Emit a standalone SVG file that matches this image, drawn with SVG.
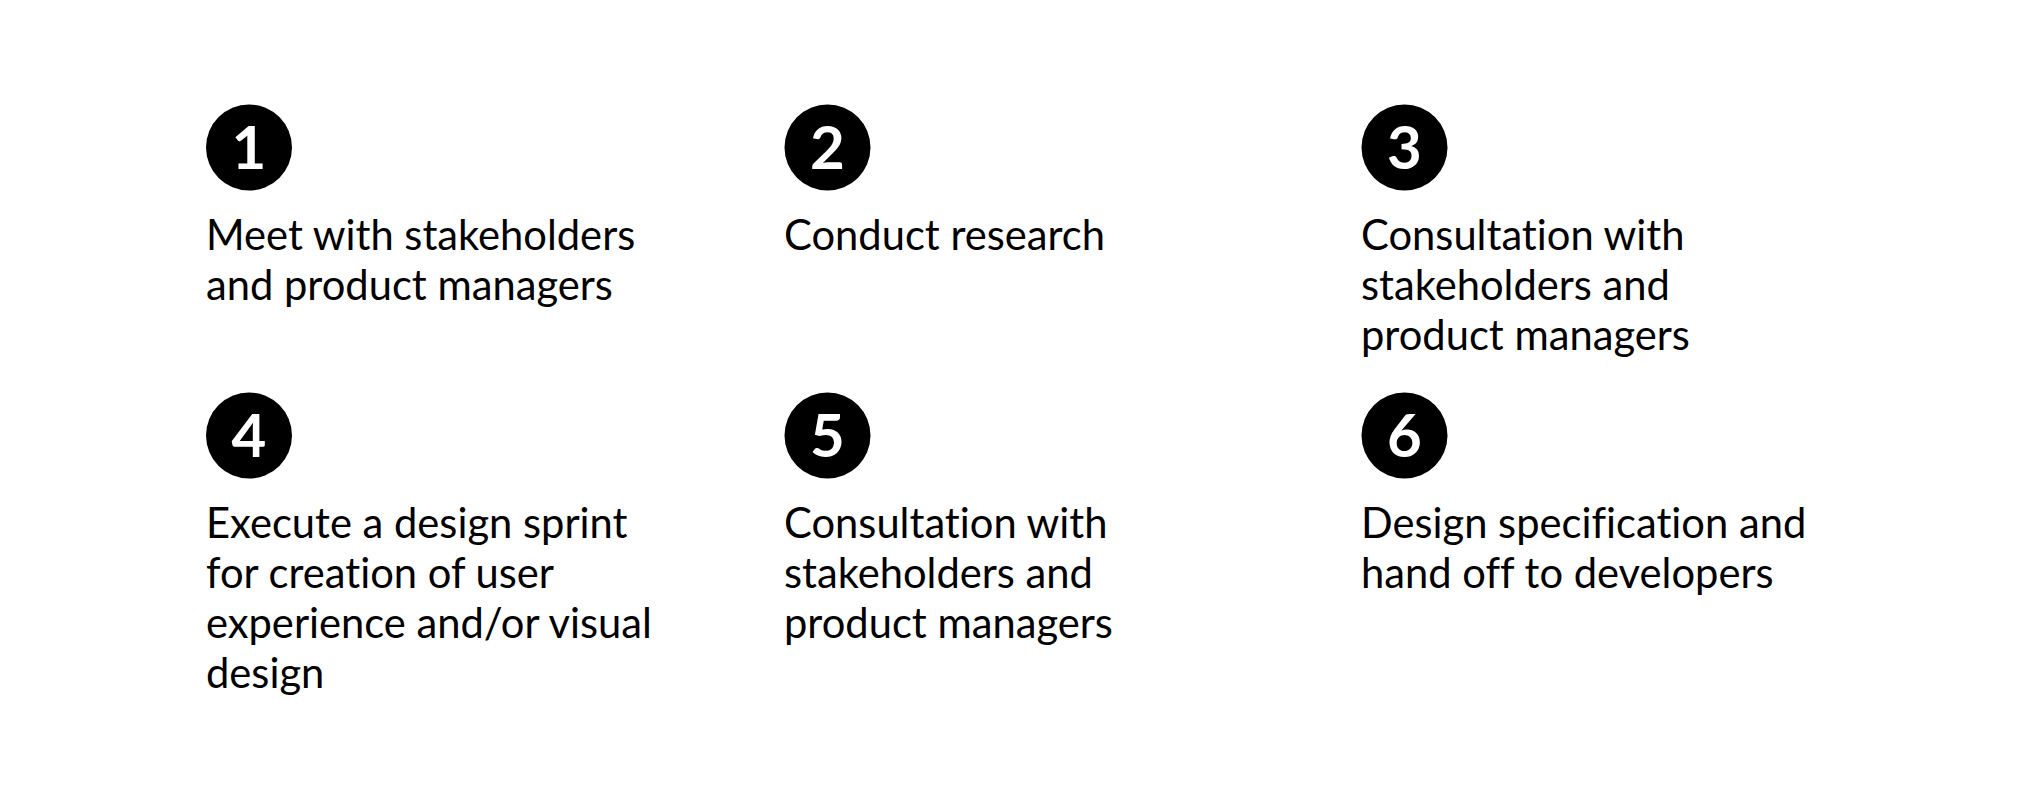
<svg xmlns="http://www.w3.org/2000/svg" width="2027" height="800" viewBox="0 0 2027 800">
<style>
.c{fill:#000}
.n{font-family:Lato,"Liberation Sans",sans-serif;font-weight:bold;font-size:60px;fill:#fff;text-anchor:middle}
.t{font-family:Lato,"Liberation Sans",sans-serif;font-size:41.7px;fill:#000;font-variant-ligatures:none}
</style>
<rect width="2027" height="800" fill="#fff"/>
<g id="connectors"></g>
<g id="step1">
<circle class="c" cx="249" cy="147.5" r="43"/>
<text class="n" x="249" y="169">1</text>
<text class="t" x="206" y="250">Meet with stakeholders<tspan x="206" dy="50">and product managers</tspan></text>
</g>
<g id="step2">
<circle class="c" cx="827.5" cy="147.5" r="43"/>
<text class="n" x="827.5" y="169">2</text>
<text class="t" x="784" y="250">Conduct research</text>
</g>
<g id="step3">
<circle class="c" cx="1404.5" cy="147.5" r="43"/>
<text class="n" x="1404.5" y="169">3</text>
<text class="t" x="1361" y="250">Consultation with<tspan x="1361" dy="50">stakeholders and</tspan><tspan x="1361" dy="50">product managers</tspan></text>
</g>
<g id="step4">
<circle class="c" cx="249" cy="435.5" r="43"/>
<text class="n" x="249" y="457">4</text>
<text class="t" x="206" y="538">Execute a design sprint<tspan x="206" dy="50">for creation of user</tspan><tspan x="206" dy="50">experience and/or visual</tspan><tspan x="206" dy="50">design</tspan></text>
</g>
<g id="step5">
<circle class="c" cx="827.5" cy="435.5" r="43"/>
<text class="n" x="827.5" y="457">5</text>
<text class="t" x="784" y="538">Consultation with<tspan x="784" dy="50">stakeholders and</tspan><tspan x="784" dy="50">product managers</tspan></text>
</g>
<g id="step6">
<circle class="c" cx="1404.5" cy="435.5" r="43"/>
<text class="n" x="1404.5" y="457">6</text>
<text class="t" x="1361" y="538">Design specification and<tspan x="1361" dy="50">hand off to developers</tspan></text>
</g>
</svg>
